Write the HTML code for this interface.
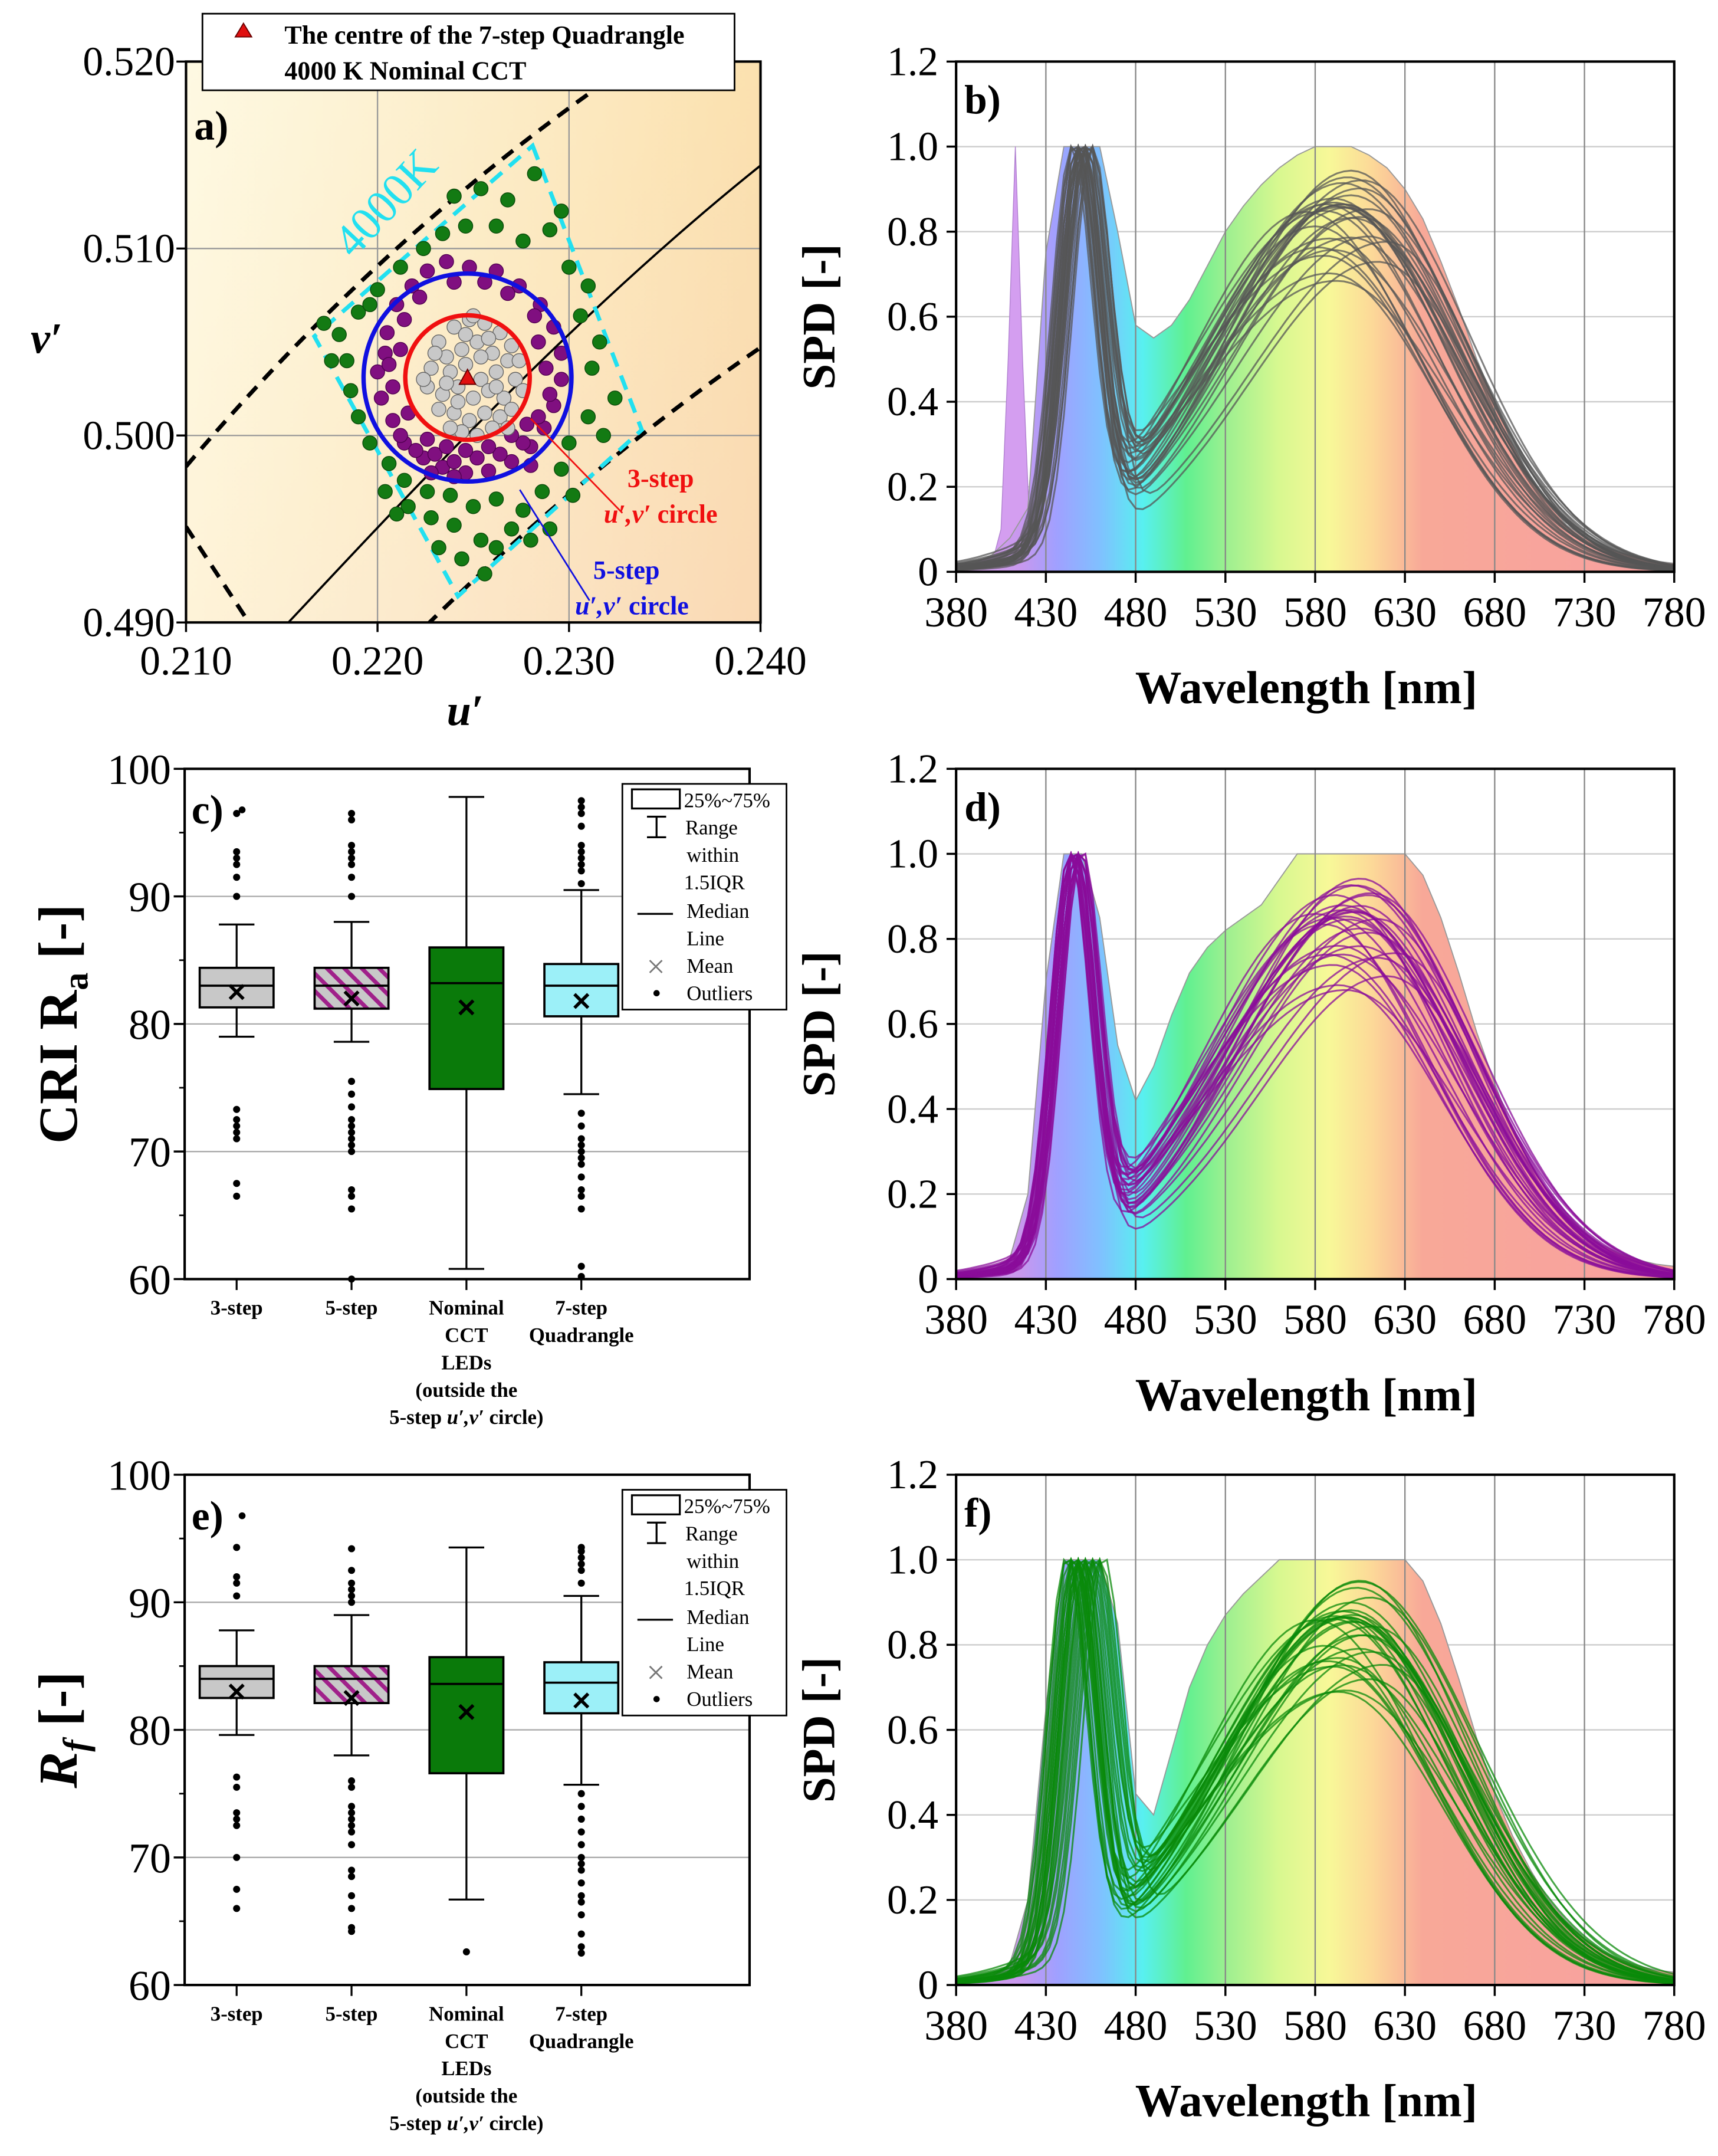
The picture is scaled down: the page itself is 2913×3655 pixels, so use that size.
<!DOCTYPE html>
<html><head><meta charset="utf-8"><style>
html,body{margin:0;padding:0;background:#fff;}
svg{display:block;font-family:"Liberation Serif",serif;}
</style></head><body>
<svg id="fig" xmlns="http://www.w3.org/2000/svg" width="2913" height="3655" viewBox="0 0 1256 1576" preserveAspectRatio="none">
<defs>
<linearGradient id="bgA" x1="0" y1="0" x2="1" y2="1">
<stop offset="0" stop-color="#fdf7d6"/><stop offset="0.5" stop-color="#fdeec8"/><stop offset="1" stop-color="#fbe2cf"/>
</linearGradient>
<linearGradient id="bgA2" x1="0" y1="0" x2="1" y2="0">
<stop offset="0" stop-color="#fff" stop-opacity="0.3"/><stop offset="1" stop-color="#f7c880" stop-opacity="0.35"/>
</linearGradient>
<linearGradient id="rainbow" gradientUnits="userSpaceOnUse" x1="699" y1="0" x2="1224" y2="0">
<stop offset="0" stop-color="#d8a0e8"/>
<stop offset="0.09" stop-color="#c898ee"/>
<stop offset="0.14" stop-color="#a0a0ff"/>
<stop offset="0.20" stop-color="#80c0ff"/>
<stop offset="0.26" stop-color="#58f0f0"/>
<stop offset="0.32" stop-color="#60f090"/>
<stop offset="0.38" stop-color="#a0f090"/>
<stop offset="0.45" stop-color="#d8f890"/>
<stop offset="0.52" stop-color="#f8f898"/>
<stop offset="0.58" stop-color="#fcd898"/>
<stop offset="0.65" stop-color="#f8a898"/>
<stop offset="1" stop-color="#f8a0a0"/>
</linearGradient>
<pattern id="hatch" patternUnits="userSpaceOnUse" width="9" height="9" patternTransform="rotate(-45)">
<rect width="9" height="9" fill="#c8c8c8"/><rect width="3" height="9" fill="#a0208a"/>
</pattern>
</defs>
<g id="root"></g>
</svg>
<script>
// ---------- Panel a data ----------
const grayU=[.2232,.2240,.2248,.2256,.2264,.2270,.2236,.2244,.2252,.2260,.2268,.2228,.2238,.2246,.2254,.2262,.2272,.2226,.2234,.2242,.2250,.2258,.2266,.2276,.2232,.2240,.2248,.2256,.2264,.2244,.2252,.2260,.2238,.2270,.2246,.2254,.2230,.2262,.2242,.2274,.2236,.2250,.2258,.2224,.2268];
const grayV=[.5050,.5058,.5062,.5060,.5055,.5048,.5042,.5046,.5050,.5044,.5040,.5036,.5034,.5038,.5030,.5034,.5030,.5026,.5022,.5026,.5020,.5024,.5020,.5024,.5014,.5012,.5008,.5012,.5010,.5002,.5000,.5004,.5004,.5014,.5054,.5042,.5044,.5026,.5018,.5040,.5028,.5064,.5052,.5030,.5004];
const purpU=[.2205,.2210,.2218,.2226,.2236,.2248,.2262,.2274,.2285,.2292,.2296,.2296,.2292,.2287,.2280,.2270,.2258,.2246,.2234,.2224,.2214,.2208,.2202,.2200,.2204,.2212,.2220,.2230,.2240,.2252,.2264,.2276,.2284,.2290,.2288,.2284,.2282,.2214,.2222,.2240,.2256,.2268,.2208,.2216,.2226,.2236,.2246,.2258,.2270,.2278,.2212,.2206,.2280,.2240,.2228];
const purpV=[.5055,.5070,.5080,.5088,.5093,.5090,.5088,.5080,.5070,.5058,.5044,.5030,.5016,.5004,.4994,.4986,.4981,.4980,.4983,.4988,.4996,.5008,.5020,.5034,.5044,.5000,.4992,.4990,.4986,.4988,.4990,.4996,.5010,.5022,.5036,.5050,.5064,.5062,.5074,.5082,.5082,.5076,.5026,.5012,.4998,.4994,.4992,.4994,.5000,.5006,.5046,.5038,.4984,.4978,.4980];
const greenU=[.2240,.2254,.2268,.2282,.2262,.2276,.2290,.2300,.2310,.2306,.2316,.2312,.2324,.2310,.2300,.2296,.2286,.2276,.2262,.2250,.2238,.2226,.2214,.2206,.2196,.2190,.2186,.2184,.2180,.2190,.2200,.2212,.2224,.2234,.2246,.2270,.2254,.2240,.2228,.2216,.2244,.2256,.2232,.2204,.2176,.2172,.2196,.2290,.2302,.2318,.2296,.2210,.2262,.2280];
const greenV=[.5128,.5132,.5126,.5140,.5112,.5104,.5110,.5090,.5080,.5064,.5050,.5036,.5020,.5010,.4996,.4982,.4970,.4960,.4966,.4962,.4968,.4970,.4976,.4985,.4996,.5010,.5024,.5040,.5054,.5066,.5078,.5090,.5100,.5108,.5112,.4950,.4944,.4952,.4956,.4962,.4934,.4926,.4940,.4970,.5040,.5060,.5070,.4950,.4968,.5000,.5120,.4958,.4940,.4944];
const centreUV=[0.2247,0.5031];
const quadU=[0.2281,0.2338,0.2242,0.2167];
const quadV=[0.5155,0.5003,0.4914,0.5053];
const aTicksX=[0.210,0.220,0.230,0.240];
const aTicksY=[0.490,0.500,0.510,0.520];

// ---------- Spectra data ----------
const wlTicks=[380,430,480,530,580,630,680,730,780];
const spdTicks=[0,0.2,0.4,0.6,0.8,1.0,1.2];
const envWl=[380,390,400,410,420,430,440,450,460,470,480,490,500,510,520,530,540,550,560,570,580,590,600,610,620,630,640,650,660,670,680,690,700,710,720,730,740,750,760,770,780];
const envB=[.02,.02,.04,.08,.15,.75,1,1,1,.8,.58,.55,.58,.64,.72,.8,.86,.91,.95,.98,1,1,1,.98,.95,.9,.83,.73,.62,.5,.4,.3,.22,.16,.11,.08,.06,.045,.035,.025,.02];
const envD=[.01,.01,.02,.05,.2,.7,1,1,.85,.55,.42,.5,.62,.72,.78,.82,.85,.88,.94,1,1,1,1,1,1,1,.95,.85,.72,.58,.46,.35,.27,.2,.15,.11,.08,.06,.045,.035,.03];
const envF=[.01,.01,.02,.05,.2,.65,1,1,1,.85,.45,.4,.55,.7,.8,.87,.92,.96,1,1,1,1,1,1,1,1,.95,.85,.72,.58,.45,.35,.27,.2,.15,.11,.08,.06,.045,.035,.03];
const violetWl=[400,405,409,413,417,421,426];
const violetVal=[.02,.1,.5,1,.5,.1,.02];
// curve parameters (blue peak nm, phosphor peak nm, left width, right width, phosphor height)
const bPb=[447,450,452,445,448,455,449,451,446,453,450,448,444,452,456,449,447,451,450,454,446,448,452,450,447,453,449,451,445,455];
const bPp=[590,600,585,595,610,580,605,592,598,588,615,575,600,590,620,595,585,605,598,590,600,610,582,596,592,588,606,600,594,586];
const bWl=[72,68,78,70,74,66,72,80,69,75,72,64,78,71,76,68,73,70,74,72,67,75,71,73,69,77,72,70,74,68];
const bWr=[62,60,58,65,55,60,58,62,64,60,55,62,60,66,52,60,63,58,61,64,59,57,62,60,65,58,60,63,59,61];
const bPh=[1,.95,.9,1,.85,.94,.98,.8,1,.92,.76,.96,.88,1,.84,.94,.99,.9,.96,.86,1,.93,.89,.97,.95,.82,1,.91,.96,1];
const dPb=[444,446,448,443,447,449,445,446,448,444,447,445,443,448,450,446,444,447,446,449,443,445,448,446,444,449,446,447,443,450];
const dPp=[595,605,590,600,615,585,610,597,603,593,620,580,605,595,625,600,590,610,603,595,605,615,587,601,597,593,611,605,599,591];
const dPh=[.96,.92,.86,1,.8,.92,.96,.76,1,.88,.74,.94,.86,.98,.8,.92,.96,.86,.94,.84,.99,.9,.86,.94,.92,.78,.96,.88,.93,1];
const fPb=[445,450,455,442,448,460,447,452,444,456,449,446,441,453,462,448,445,451,449,458,443,447,454,450,446,457,448,452,442,459];
const fPp=[600,595,590,605,612,585,600,597,603,593,610,580,605,595,618,600,590,608,603,595,605,612,587,601,597,593,611,605,599,591];
const fPh=[.98,.94,.9,1,.84,.92,.97,.8,1,.9,.76,.94,.86,.99,.82,.92,.97,.88,.94,.85,1,.91,.87,.96,.93,.8,.98,.89,.94,1];

// ---------- Box plot data ----------
const boxCats=["3-step","5-step","Nominal","7-step"];
const cLow=[79,78.6,60.8,74.5], cQ1=[81.3,81.2,74.9,80.6], cMed=[83,83,83.2,83], cQ3=[84.4,84.4,86,84.7], cHigh=[87.8,88,97.8,90.5], cMean=[82.5,82,81.3,81.8];
const cOut0=[96.5,93.5,93,92.5,91.5,90,73.3,72.5,72,71.5,71,67.5,66.5];
const cOut1=[96.5,96,94,93.5,93,92.5,91.5,90,75.5,74.5,73.5,72.5,72,71.5,71,70.5,70,67,66.5,65.5,60];
const cOut2=[];
const cOut3=[97.5,97,96.5,95.5,94,93.5,93,92.5,92,91,73,72,71,70.5,70,69.5,69,68,67,66.5,65.5,61,60.2];
const eLow=[79.6,78,66.7,75.7], eQ1=[82.5,82.1,76.6,81.3], eMed=[84,84,83.6,83.7], eQ3=[85,85,85.7,85.3], eHigh=[87.8,89,94.3,90.5], eMean=[83,82.5,81.4,82.3];
const eOut0=[94.3,92,91.5,90.5,76.3,75.5,73.5,73,72.5,70,67.5,66];
const eOut1=[94.2,92.5,91.5,91,90.5,90,76,75.5,74,73.5,73,72.5,72,71,69,68.5,67,66,64.5,64.2];
const eOut2=[62.6];
const eOut3=[94.3,94,93.5,93,92.5,91.5,75,74,73,72,71,70,69.5,69,68,67,66.5,65.5,64,63,62.5];
const boxTicks=[60,70,80,90,100];

const NS="http://www.w3.org/2000/svg";
const root=document.getElementById('root');
function mk(tag,attrs,parent){const e=document.createElementNS(NS,tag);for(const k in attrs)e.setAttribute(k,attrs[k]);(parent||root).appendChild(e);return e;}
function txt(s,x,y,size,opts,parent){opts=opts||{};const e=mk('text',{x:x,y:y,'font-size':size,'text-anchor':opts.anchor||'middle',fill:opts.fill||'#000','font-weight':opts.bold?'bold':'normal','font-style':opts.italic?'italic':'normal'},parent);if(opts.rot)e.setAttribute('transform','rotate('+opts.rot+' '+x+' '+y+')');e.textContent=s;return e;}

// ================= Panel a =================
(function(){
const L=136,R=556,T=45,B=455;
const X=u=>L+(u-0.210)/0.030*(R-L);
const Y=v=>B-(v-0.490)/0.030*(B-T);
const g=mk('g',{});


mk('rect',{x:L,y:T,width:R-L,height:B-T,fill:'url(#bgA)'},g);
mk('rect',{x:L,y:T,width:R-L,height:B-T,fill:'url(#bgA2)'},g);
const clip=mk('clipPath',{id:'clipA'},g);mk('rect',{x:L,y:T,width:R-L,height:B-T},clip);
const inner=mk('g',{'clip-path':'url(#clipA)'},g);
aTicksX.forEach(t=>{mk('line',{x1:X(t),x2:X(t),y1:T,y2:B,stroke:'#999','stroke-width':1},inner);});
aTicksY.forEach(t=>{mk('line',{x1:L,x2:R,y1:Y(t),y2:Y(t),stroke:'#999','stroke-width':1},inner);});
const planck=mk('path',{d:'M209,457 C300,360 420,230 556,121',fill:'none',stroke:'#000','stroke-width':1.6},inner);

const d1=mk('path',{d:'M136,341 C230,230 330,140 434,66',fill:'none',stroke:'#000','stroke-width':3,'stroke-dasharray':'10,7'},inner);

const d2=mk('path',{d:'M136,385 L180,452',fill:'none',stroke:'#000','stroke-width':3,'stroke-dasharray':'10,7'},inner);

const d3=mk('path',{d:'M312,457 C380,390 460,320 556,254',fill:'none',stroke:'#000','stroke-width':3,'stroke-dasharray':'10,7'},inner);

let qd='';quadU.forEach((u,i)=>{qd+=(i?'L':'M')+X(u)+','+Y(quadV[i]);});qd+='Z';
const quad=mk('path',{d:qd,fill:'none',stroke:'#22e0f0','stroke-width':3,'stroke-dasharray':'11,7'},inner);

const t4=txt('4000K',290,156,34,{fill:'#22e0f0',rot:-47},inner);


function pts(U,V,fill,stroke,name){U.forEach((u,i)=>{const c=mk('circle',{cx:X(u),cy:Y(V[i]),r:5.2,fill:fill,stroke:stroke,'stroke-width':0.6},inner);

});}
pts(greenU,greenV,'#137a13','#0a4a0a','green-point');
pts(purpU,purpV,'#800f80','#500050','purple-point');
pts(grayU,grayV,'#c8c8c8','#666','gray-point');
const cx=X(centreUV[0]),cy=Y(centreUV[1]);
const blue=mk('circle',{cx:cx,cy:cy,r:76,fill:'none',stroke:'#1010e0','stroke-width':3.2},inner);

const red=mk('circle',{cx:cx,cy:cy,r:45.5,fill:'none',stroke:'#f01010','stroke-width':3.2},inner);

const tri=mk('path',{d:'M'+cx+','+(cy-6)+'L'+(cx+6)+','+(cy+5)+'L'+(cx-6)+','+(cy+5)+'Z',fill:'#e01010',stroke:'#600','stroke-width':0.8},inner);

mk('line',{x1:388,x2:455,y1:306,y2:375,stroke:'#f01010','stroke-width':1.2},g);
mk('line',{x1:380,x2:431,y1:358,y2:439,stroke:'#1010e0','stroke-width':1.2},g);
txt('3-step',483,356,19,{bold:true,fill:'#f01010'},g);
const r1=mk('text',{x:483,y:382,'font-size':19,'text-anchor':'middle',fill:'#f01010','font-weight':'bold'},g);r1.innerHTML='<tspan font-style="italic">u\u2032,v\u2032</tspan> circle';
txt('5-step',458,423,19,{bold:true,fill:'#1010e0'},g);
const r2=mk('text',{x:462,y:449,'font-size':19,'text-anchor':'middle',fill:'#1010e0','font-weight':'bold'},g);r2.innerHTML='<tspan font-style="italic">u\u2032,v\u2032</tspan> circle';
txt('a)',142,102,30,{bold:true,anchor:'start'},g);
mk('rect',{x:L,y:T,width:R-L,height:B-T,fill:'none',stroke:'#000','stroke-width':1.8},g);
aTicksX.forEach(t=>{mk('line',{x1:X(t),x2:X(t),y1:B,y2:B+7,stroke:'#000','stroke-width':1.5},g);
const tl=txt(t.toFixed(3),X(t),B+38,30,{},g);

});
aTicksY.forEach(t=>{mk('line',{x1:L-7,x2:L,y1:Y(t),y2:Y(t),stroke:'#000','stroke-width':1.5},g);
const tl=txt(t.toFixed(3),L-8,Y(t)+10,30,{anchor:'end'},g);

});
const xt=txt('u\u2032',340,530,32,{bold:true,italic:true},g);

const yt=txt('v\u2032',34,258,32,{bold:true,italic:true},g);

// legend
const lg=mk('g',{},g);


mk('rect',{x:148,y:10,width:389,height:56,fill:'#fff',stroke:'#000','stroke-width':1.2},lg);
mk('path',{d:'M178,17L184,27L172,27Z',fill:'#e01010',stroke:'#600','stroke-width':0.8},lg);
txt('The centre of the 7-step Quadrangle',208,32,19,{bold:true,anchor:'start'},lg);
txt('4000 K Nominal CCT',208,58,19,{bold:true,anchor:'start'},lg);
})();

// ================= Spectra panels =================
function spectra(T,B,env,Pb,Pp,Wl,Wr,Ph,color,label,name,violet){
const L=699,R=1224;
const X=w=>L+(w-380)/400*(R-L);
const Y=v=>B-v/1.2*(B-T);
const g=mk('g',{});


spdTicks.forEach(t=>{if(t>0&&t<1.2)mk('line',{x1:L,x2:R,y1:Y(t),y2:Y(t),stroke:'#ccc','stroke-width':1},g);});
if(violet){let d='M'+X(violetWl[0])+','+Y(0);violetWl.forEach((w,i)=>{d+='L'+X(w)+','+Y(violetVal[i]);});d+='L'+X(violetWl[violetWl.length-1])+','+Y(0)+'Z';
const vp=mk('path',{d:d,fill:'#d49ef0',stroke:'#b080d0','stroke-width':0.6},g);
}
let d='M'+X(envWl[0])+','+Y(0);envWl.forEach((w,i)=>{d+='L'+X(w)+','+Y(env[i]);});d+='L'+X(780)+','+Y(0)+'Z';
const ef=mk('path',{d:d,fill:'url(#rainbow)',stroke:'#999','stroke-width':0.8},g);

wlTicks.forEach(t=>{if(t>380&&t<780)mk('line',{x1:X(t),x2:X(t),y1:T,y2:B,stroke:'#888','stroke-width':1},g);});
const lines=mk('g',{},g);
Pb.forEach((pb,i)=>{
 const vals=[];for(let w=380;w<=780;w+=4){const b=Math.exp(-0.5*Math.pow((w-pb)/11,2));const wd=w<Pp[i]?Wl[i]:Wr[i];const p=Ph[i]*Math.exp(-0.5*Math.pow((w-Pp[i])/wd,2));vals.push([w,b+p]);}
 const mx=Math.max(...vals.map(v=>v[1]));
 let pd='';vals.forEach((v,j)=>{pd+=(j?'L':'M')+X(v[0]).toFixed(1)+','+Y(v[1]/mx).toFixed(1);});
 const p=mk('path',{d:pd,fill:'none',stroke:color,'stroke-width':1.3,'stroke-opacity':0.75},lines);
 
 
});
mk('rect',{x:L,y:T,width:R-L,height:B-T,fill:'none',stroke:'#000','stroke-width':1.8},g);
wlTicks.forEach(t=>{mk('line',{x1:X(t),x2:X(t),y1:B,y2:B+8,stroke:'#000','stroke-width':1.5},g);
const tl=txt(String(t),X(t),B+40,31,{},g);

});
spdTicks.forEach(t=>{mk('line',{x1:L-7,x2:L,y1:Y(t),y2:Y(t),stroke:'#000','stroke-width':1.5},g);
const tl=txt(t===0?'0':t.toFixed(1),L-13,Y(t)+10,30,{anchor:'end'},g);

});
txt(label,705,T+38,30,{bold:true,anchor:'start'},g);
const xt=txt('Wavelength [nm]',955,B+96,34,{bold:true},g);

const yt=txt('SPD [-]',610,(T+B)/2,34,{bold:true,rot:-90},g);

}
spectra(45,418,envB,bPb,bPp,bWl,bWr,bPh,'#555','b)','spectra-panel-b',true);
spectra(562,935,envD,dPb,dPp,bWl,bWr,dPh,'#8a0c9a','d)','spectra-panel-d',false);
spectra(1078,1451,envF,fPb,fPp,bWl,bWr,fPh,'#0a8a0a','f)','spectra-panel-f',false);

// ================= Box plots =================
function boxplot(T,B,low,q1,med,q3,high,mean,outs,label,ytitle,name){
const L=135,R=548;
const Y=v=>B-(v-60)/40*(B-T);
const X=i=>173+84*i;
const g=mk('g',{});


[70,80,90].forEach(t=>mk('line',{x1:L,x2:R,y1:Y(t),y2:Y(t),stroke:'#aaa','stroke-width':1},g));
const fills=['#c8c8c8','url(#hatch)','#0a7a0a','#9cf0f8'];
boxCats.forEach((c,i)=>{
 const x=X(i),bw=27;
 mk('line',{x1:x,x2:x,y1:Y(high[i]),y2:Y(low[i]),stroke:'#000','stroke-width':1.4},g);
 mk('line',{x1:x-13,x2:x+13,y1:Y(high[i]),y2:Y(high[i]),stroke:'#000','stroke-width':1.4},g);
 mk('line',{x1:x-13,x2:x+13,y1:Y(low[i]),y2:Y(low[i]),stroke:'#000','stroke-width':1.4},g);
 const bx=mk('rect',{x:x-bw,y:Y(q3[i]),width:2*bw,height:Y(q1[i])-Y(q3[i]),fill:fills[i],stroke:'#000','stroke-width':1.6},g);
 
 
 mk('line',{x1:x-bw,x2:x+bw,y1:Y(med[i]),y2:Y(med[i]),stroke:'#000','stroke-width':1.6},g);
 const my=Y(mean[i]);
 mk('path',{d:'M'+(x-5)+','+(my-5)+'L'+(x+5)+','+(my+5)+'M'+(x+5)+','+(my-5)+'L'+(x-5)+','+(my+5),stroke:'#000','stroke-width':2.4},g);
 outs[i].forEach(v=>{const o=mk('circle',{cx:x,cy:Y(v),r:2.6,fill:'#000'},g);
 
 });
 mk('line',{x1:x,x2:x,y1:B,y2:B+8,stroke:'#000','stroke-width':1.4},g);
});
mk('rect',{x:L,y:T,width:R-L,height:B-T,fill:'none',stroke:'#000','stroke-width':1.8},g);
boxTicks.forEach(t=>{mk('line',{x1:L-8,x2:L,y1:Y(t),y2:Y(t),stroke:'#000','stroke-width':1.5},g);
const tl=txt(String(t),L-10,Y(t)+11,31,{anchor:'end'},g);

});
[65,75,85,95].forEach(t=>mk('line',{x1:L-4,x2:L,y1:Y(t),y2:Y(t),stroke:'#000','stroke-width':1.2},g));
txt('3-step',X(0),B+26,15,{bold:true},g);
txt('5-step',X(1),B+26,15,{bold:true},g);
['Nominal','CCT','LEDs','(outside the'].forEach((s,k)=>txt(s,X(2),B+26+20*k,15,{bold:true},g));
const l5=mk('text',{x:X(2),y:B+106,'font-size':15,'text-anchor':'middle','font-weight':'bold'},g);l5.innerHTML='5-step <tspan font-style="italic">u\u2032,v\u2032</tspan> circle)';
txt('7-step',X(3),B+26,15,{bold:true},g);
txt('Quadrangle',X(3),B+46,15,{bold:true},g);
txt(label,140,T+40,30,{bold:true,anchor:'start'},g);
mk('circle',{cx:177,cy:T+30,r:2.5,fill:'#000'},g);
const yt=mk('text',{x:56,y:(T+B)/2,'font-size':40,'text-anchor':'middle','font-weight':'bold',transform:'rotate(-90 56 '+((T+B)/2)+')'},g);
yt.innerHTML=ytitle;

// legend
const lg=mk('g',{},g);


const LY=T+11;
mk('rect',{x:455,y:LY,width:120,height:165,fill:'#fff',stroke:'#000','stroke-width':1.2},lg);
mk('rect',{x:462,y:LY+4,width:35,height:14,fill:'#fff',stroke:'#000','stroke-width':1.4},lg);
mk('path',{d:'M473,'+(LY+24)+'h14M480,'+(LY+24)+'v15M473,'+(LY+39)+'h14',stroke:'#000','stroke-width':1.4,fill:'none'},lg);
mk('line',{x1:466,x2:492,y1:LY+95,y2:LY+95,stroke:'#000','stroke-width':1.4},lg);
mk('path',{d:'M475,'+(LY+129)+'l9,9M484,'+(LY+129)+'l-9,9',stroke:'#777','stroke-width':1.2},lg);
mk('circle',{cx:480,cy:LY+153,r:2.3,fill:'#000'},lg);
[['25%~75%',LY+17,500],['Range',LY+37,501],['within',LY+57,502],['1.5IQR',LY+77,500],['Median',LY+98,502],['Line',LY+118,502],['Mean',LY+138,502],['Outliers',LY+158,502]].forEach(a=>txt(a[0],a[2],a[1],15,{anchor:'start'},lg));
}
boxplot(562,935,cLow,cQ1,cMed,cQ3,cHigh,cMean,[cOut0,cOut1,cOut2,cOut3],'c)','CRI R<tspan font-size="26" dy="8">a</tspan><tspan dy="-8"> [-]</tspan>','box-panel-c');
boxplot(1078,1451,eLow,eQ1,eMed,eQ3,eHigh,eMean,[eOut0,eOut1,eOut2,eOut3],'e)','<tspan font-style="italic">R</tspan><tspan font-size="26" dy="8" font-style="italic">f</tspan><tspan dy="-8"> [-]</tspan>','box-panel-e');
</script>
</body></html>
